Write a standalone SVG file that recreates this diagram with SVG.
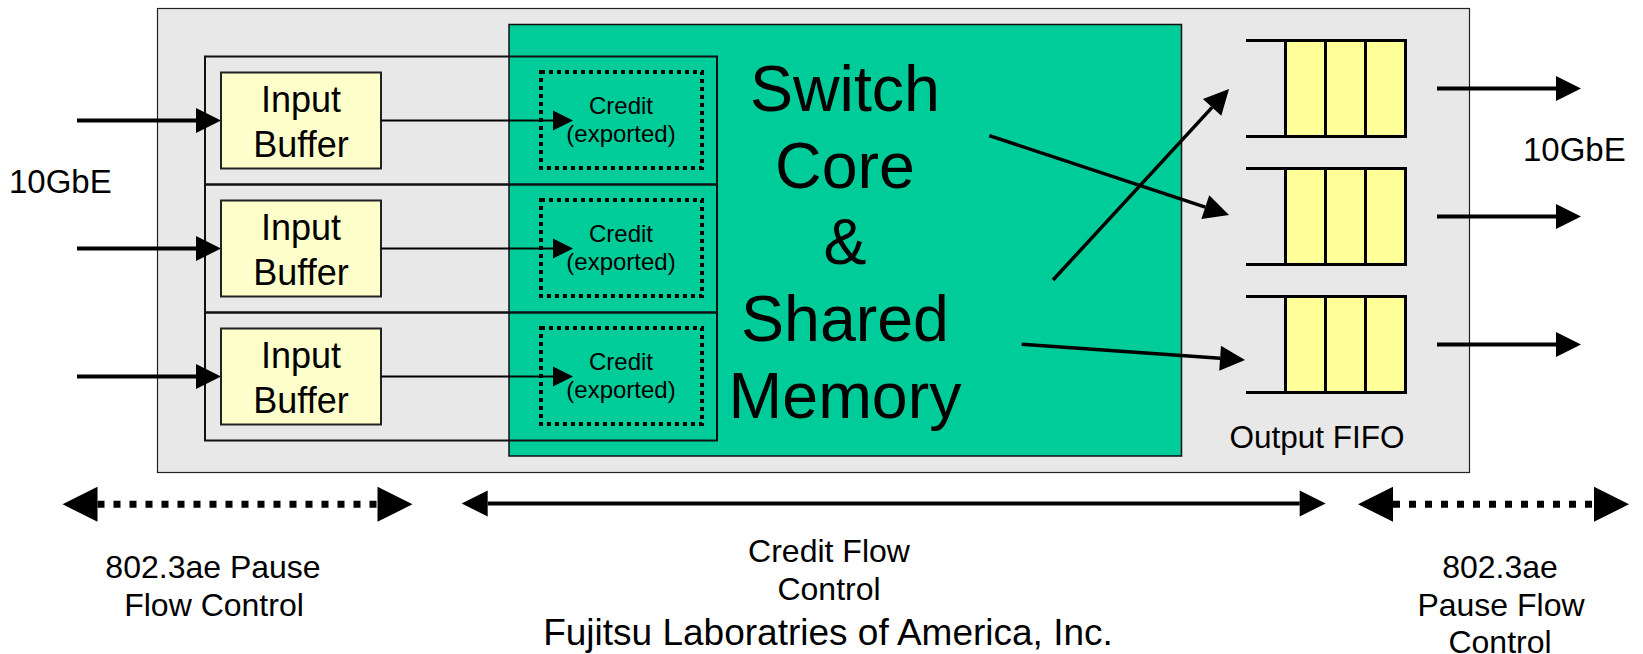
<svg xmlns="http://www.w3.org/2000/svg" width="1643" height="654" viewBox="0 0 1643 654">
  <style>
    text { font-family: "Liberation Sans", Arial, Helvetica, sans-serif; fill: #000; }
    .mid { text-anchor: middle; }
    .frame { fill: none; stroke: #111; stroke-width: 2; }
    .buffer { fill: #ffffcc; stroke: #222; stroke-width: 2; }
    .credit { fill: none; stroke: #000; stroke-width: 4; stroke-dasharray: 4 4; }
    .cell { fill: #ffff99; stroke: #000; stroke-width: 3; }
    .rail { stroke: #000; stroke-width: 3; }
    .thick { stroke: #000; stroke-width: 4; fill: none; }
    .thin { stroke: #000; stroke-width: 2; fill: none; }
    .diag { stroke: #000; stroke-width: 3.5; fill: none; }
    .dots { stroke: #000; stroke-width: 7; stroke-dasharray: 7 9; fill: none; }
    .lbl-big { font-size: 36px; }
    .lbl-sm { font-size: 24px; }
    .lbl-core { font-size: 64.5px; }
    .lbl { font-size: 32px; }
    .port { font-size: 33px; }
  </style>
  <defs>
    <marker id="head" markerUnits="userSpaceOnUse" markerWidth="25" markerHeight="25" refX="0" refY="12.5" orient="auto" overflow="visible">
      <path d="M0,0 L25,12.5 L0,25 z" fill="#000"/>
    </marker>
    <marker id="head-sm" markerUnits="userSpaceOnUse" markerWidth="20" markerHeight="20" refX="0" refY="10" orient="auto" overflow="visible">
      <path d="M0,0 L20,10 L0,20 z" fill="#000"/>
    </marker>
    <marker id="head-span" markerUnits="userSpaceOnUse" markerWidth="26" markerHeight="26" refX="0" refY="13" orient="auto-start-reverse" overflow="visible">
      <path d="M0,0 L26,13 L0,26 z" fill="#000"/>
    </marker>
    <marker id="head-pause" markerUnits="userSpaceOnUse" markerWidth="35" markerHeight="35" refX="0" refY="17.5" orient="auto-start-reverse" overflow="visible">
      <path d="M0,0 L35,17.5 L0,35 z" fill="#000"/>
    </marker>
  </defs>

  <!-- switch enclosure -->
  <rect id="enclosure" x="157.5" y="8.5" width="1312" height="464" fill="#e8e8e8" stroke="#222" stroke-width="1.2"/>

  <!-- shared memory core -->
  <g id="switch-core">
    <rect x="509" y="24.5" width="672.5" height="431.5" fill="#00cc99" stroke="#111" stroke-width="1.5"/>
    <text class="lbl-core mid" x="845" y="111">Switch</text>
    <text class="lbl-core mid" x="845" y="187.7">Core</text>
    <text class="lbl-core mid" x="845" y="264.3">&amp;</text>
    <text class="lbl-core mid" x="845" y="341">Shared</text>
    <text class="lbl-core mid" x="845" y="417.7">Memory</text>
  </g>

  <!-- input ports -->
  <g id="port-1">
    <rect class="frame" x="205" y="56.5" width="512" height="128"/>
    <rect class="buffer" x="221" y="72.5" width="160" height="96"/>
    <text class="lbl-big mid" x="301" y="111.7">Input</text>
    <text class="lbl-big mid" x="301" y="156.7">Buffer</text>
    <rect class="credit" x="541" y="72" width="161" height="96"/>
    <text class="lbl-sm mid" x="621" y="114">Credit</text>
    <text class="lbl-sm mid" x="621" y="141.7">(exported)</text>
  </g>
  <g id="port-2">
    <rect class="frame" x="205" y="184.5" width="512" height="128"/>
    <rect class="buffer" x="221" y="200.5" width="160" height="96"/>
    <text class="lbl-big mid" x="301" y="239.7">Input</text>
    <text class="lbl-big mid" x="301" y="284.7">Buffer</text>
    <rect class="credit" x="541" y="200" width="161" height="96"/>
    <text class="lbl-sm mid" x="621" y="242">Credit</text>
    <text class="lbl-sm mid" x="621" y="269.7">(exported)</text>
  </g>
  <g id="port-3">
    <rect class="frame" x="205" y="312.5" width="512" height="128"/>
    <rect class="buffer" x="221" y="328.5" width="160" height="96"/>
    <text class="lbl-big mid" x="301" y="367.7">Input</text>
    <text class="lbl-big mid" x="301" y="412.7">Buffer</text>
    <rect class="credit" x="541" y="328" width="161" height="96"/>
    <text class="lbl-sm mid" x="621" y="370">Credit</text>
    <text class="lbl-sm mid" x="621" y="397.7">(exported)</text>
  </g>

  <!-- output FIFOs -->
  <g id="fifo-1">
    <rect class="cell" x="1285.5" y="40.5" width="40" height="96"/>
    <rect class="cell" x="1325.5" y="40.5" width="40" height="96"/>
    <rect class="cell" x="1365.5" y="40.5" width="40" height="96"/>
    <line class="rail" x1="1246" y1="40.5" x2="1287" y2="40.5"/>
    <line class="rail" x1="1246" y1="136.5" x2="1287" y2="136.5"/>
  </g>
  <g id="fifo-2">
    <rect class="cell" x="1285.5" y="168.5" width="40" height="96"/>
    <rect class="cell" x="1325.5" y="168.5" width="40" height="96"/>
    <rect class="cell" x="1365.5" y="168.5" width="40" height="96"/>
    <line class="rail" x1="1246" y1="168.5" x2="1287" y2="168.5"/>
    <line class="rail" x1="1246" y1="264.5" x2="1287" y2="264.5"/>
  </g>
  <g id="fifo-3">
    <rect class="cell" x="1285.5" y="296.5" width="40" height="96"/>
    <rect class="cell" x="1325.5" y="296.5" width="40" height="96"/>
    <rect class="cell" x="1365.5" y="296.5" width="40" height="96"/>
    <line class="rail" x1="1246" y1="296.5" x2="1287" y2="296.5"/>
    <line class="rail" x1="1246" y1="392.5" x2="1287" y2="392.5"/>
  </g>
  <text id="fifo-label" class="mid" x="1317" y="448.3" style="font-size:31.5px">Output FIFO</text>

  <!-- port labels -->
  <text id="ingress-label" class="port" x="9" y="193">10GbE</text>
  <text id="egress-label" class="port" x="1523" y="161">10GbE</text>

  <!-- connectors -->
  <g id="connectors">
    <line class="thick" x1="77" y1="120.5" x2="196" y2="120.5" marker-end="url(#head)"/>
    <line class="thick" x1="77" y1="248.5" x2="196" y2="248.5" marker-end="url(#head)"/>
    <line class="thick" x1="77" y1="376.5" x2="196" y2="376.5" marker-end="url(#head)"/>

    <line class="thin" x1="381" y1="120.5" x2="553" y2="120.5" marker-end="url(#head-sm)"/>
    <line class="thin" x1="381" y1="248.5" x2="553" y2="248.5" marker-end="url(#head-sm)"/>
    <line class="thin" x1="381" y1="376.5" x2="553" y2="376.5" marker-end="url(#head-sm)"/>

    <line class="diag" x1="989.3" y1="135.7" x2="1205.3" y2="207.1" marker-end="url(#head)"/>
    <line class="diag" x1="1053" y1="280" x2="1212.1" y2="107.4" marker-end="url(#head)"/>
    <line class="diag" x1="1021.7" y1="344.3" x2="1220.1" y2="358.2" marker-end="url(#head)"/>

    <line class="thick" x1="1437" y1="88.5" x2="1556" y2="88.5" marker-end="url(#head)"/>
    <line class="thick" x1="1437" y1="216.5" x2="1556" y2="216.5" marker-end="url(#head)"/>
    <line class="thick" x1="1437" y1="344.5" x2="1556" y2="344.5" marker-end="url(#head)"/>

    <line class="dots" x1="97.5" y1="504.3" x2="377.5" y2="504.3" marker-start="url(#head-pause)" marker-end="url(#head-pause)"/>
    <line class="thick" x1="487.7" y1="503.5" x2="1299.7" y2="503.5" marker-start="url(#head-span)" marker-end="url(#head-span)"/>
    <line class="dots" x1="1393" y1="504.3" x2="1594" y2="504.3" marker-start="url(#head-pause)" marker-end="url(#head-pause)"/>
  </g>

  <!-- flow-control legends -->
  <g id="legend-left">
    <text class="lbl mid" x="213" y="578.3">802.3ae Pause</text>
    <text class="lbl mid" x="214" y="615.7">Flow Control</text>
  </g>
  <g id="legend-centre">
    <text class="lbl mid" x="829" y="561.7">Credit Flow</text>
    <text class="lbl mid" x="829" y="600">Control</text>
  </g>
  <g id="legend-right">
    <text class="lbl mid" x="1500" y="578">802.3ae</text>
    <text class="lbl mid" x="1501" y="615.7">Pause Flow</text>
    <text class="lbl mid" x="1500" y="653">Control</text>
  </g>
  <text id="credit" class="mid" x="828" y="645" style="font-size:37px">Fujitsu Laboratries of America, Inc.</text>
</svg>
